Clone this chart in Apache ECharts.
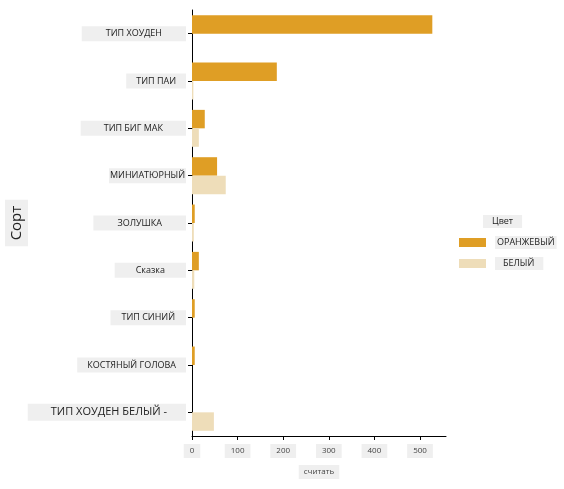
<!DOCTYPE html>
<html>
<head>
<meta charset="utf-8">
<script src="https://cdn.jsdelivr.net/npm/echarts@6/dist/echarts.min.js"></script>
<style>
  html, body { margin: 0; padding: 0; background: #fff; }
  #chart { width: 564px; height: 489px; }
</style>
</head>
<body>
<div id="chart"></div>
<script>
// данные
const sorts = ['ТИП ХОУДЕН', 'ТИП ПАИ', 'ТИП БИГ МАК', 'МИНИАТЮРНЫЙ', 'ЗОЛУШКА',
  'Сказка', 'ТИП СИНИЙ', 'КОСТЯНЫЙ ГОЛОВА', 'ТИП ХОУДЕН БЕЛЫЙ -'];
const orangeCounts = [527, 186, 28, 55, 6, 15, 6, 6, 0];
const whiteCounts = [0, 3, 15, 74, 4, 5, 0, 0, 48];
const xTicks = [0, 100, 200, 300, 400, 500];
const colourNames = ['ОРАНЖЕВЫЙ', 'БЕЛЫЙ'];

const chart = echarts.init(document.getElementById('chart'), null, { renderer: 'canvas' });

// отступы подписей по оси Y
const padX = [24, 10, 23, 1, 24, 21, 11, 10, 23];
const rich = {};
padX.forEach((p, i) => {
  rich['p' + i] = {
    backgroundColor: '#efefef',
    padding: i === 8 ? [3, 19, 3, p] : [3, p, 3, p],
    fontSize: i === 8 ? 11 : 9,
    color: '#222',
    fontFamily: 'Open Sans'
  };
});

// подписи легенды
const legendRich = {
  s: { width: 4 },
  t0: { backgroundColor: '#efefef', padding: [2, 2], fontSize: 9, color: '#222' },
  t1: { backgroundColor: '#efefef', padding: [2, 9, 2, 8], fontSize: 9, color: '#222' }
};

const option = {
  backgroundColor: '#fff',
  animation: false,
  textStyle: { fontFamily: 'Open Sans' },
  color: ['#DF9E25', '#EEDDB9'],
  grid: {
    left: 192, right: 118, top: 10, bottom: 53,
    containLabel: false,
    outerBoundsMode: 'none'
  },
  title: {
    text: 'Цвет',
    left: 483,
    top: 215,
    backgroundColor: '#efefef',
    padding: [2, 9],
    textStyle: { fontSize: 9, fontWeight: 'normal', color: '#222' }
  },
  legend: {
    data: colourNames,
    orient: 'vertical',
    left: 454,
    top: 231,
    itemWidth: 27,
    itemHeight: 9,
    itemGap: 8,
    icon: 'rect',
    formatter: name => '{s|}{t' + colourNames.indexOf(name) + '|' + name + '}',
    textStyle: { rich: legendRich }
  },
  xAxis: {
    type: 'value',
    min: 0,
    max: 557,
    name: 'считать',
    nameLocation: 'middle',
    nameGap: 29,
    nameTextStyle: {
      fontSize: 8,
      color: '#444',
      backgroundColor: '#efefef',
      padding: [3, 5]
    },
    splitLine: { show: false },
    axisLine: { show: true, lineStyle: { color: '#000', width: 1 } },
    axisTick: { show: true, length: 4, customValues: xTicks, lineStyle: { color: '#000' } },
    axisLabel: {
      customValues: xTicks,
      fontSize: 8,
      color: '#444',
      margin: 8,
      backgroundColor: '#efefef',
      padding: [3, 6]
    }
  },
  yAxis: {
    type: 'category',
    data: sorts,
    inverse: true,
    name: 'Сорт',
    nameLocation: 'middle',
    nameRotate: 90,
    nameGap: 164,
    nameMoveOverlap: false,
    nameTextStyle: {
      fontSize: 15,
      color: '#222',
      backgroundColor: '#efefef',
      padding: [4, 6]
    },
    axisLine: { show: true, lineStyle: { color: '#000', width: 1 } },
    axisTick: { show: true, length: 4, alignWithLabel: true, lineStyle: { color: '#000' } },
    axisLabel: {
      margin: 6,
      formatter: (v, i) => '{p' + i + '|' + v + '}',
      rich: rich
    }
  },
  series: [
    {
      name: colourNames[0],
      type: 'bar',
      data: orangeCounts,
      barCategoryGap: '22%',
      barGap: '0%'
    },
    {
      name: colourNames[1],
      type: 'bar',
      data: whiteCounts,
      barCategoryGap: '22%',
      barGap: '0%'
    }
  ]
};

chart.setOption(option);
</script>
</body>
</html>
